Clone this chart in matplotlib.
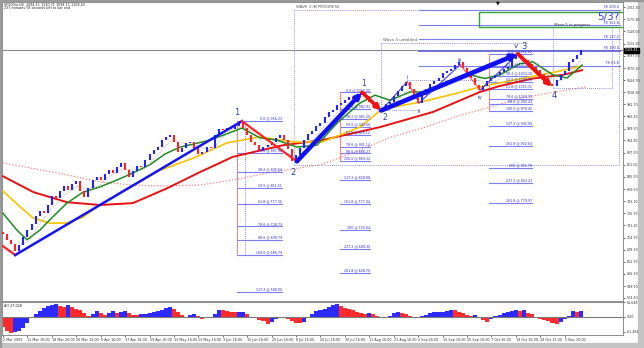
import matplotlib
matplotlib.use("Agg")
import matplotlib.pyplot as plt
import numpy as np
import pandas as pd
from matplotlib.patches import Rectangle

# ---------------- data ----------------
header_line1 = "SP500m,H4  1094.11 1110.71 1094.11 1109.43"
header_line2 = "237 minutes 58 seconds left to bar end"

first_open = 716
closes = [712, 700, 690, 676, 688, 705, 720, 735, 752, 762,
          758, 775, 795, 790, 806, 815, 808, 820, 826, 805,
          792, 812, 830, 836, 828, 842, 850, 845, 858, 866,
          850, 835, 848, 860, 858, 872, 885, 893, 900, 915,
          922, 926, 912, 890, 898, 908, 912, 898, 884, 890,
          900, 898, 925, 940, 936, 942, 938, 946, 952, 942,
          925, 912, 905, 892, 900, 905, 912, 920, 926, 915,
          895, 870, 882, 898, 915, 928, 935, 945, 952, 965,
          976, 980, 990, 995, 1002, 1008, 1004, 1012, 1018, 1010,
          998, 992, 982, 985, 992, 998, 1010, 1020, 1032, 1040,
          1025, 1005, 996, 1012, 1026, 1036, 1042, 1050, 1060, 1064,
          1068, 1078, 1084, 1070, 1058, 1048, 1035, 1024, 1032, 1042,
          1050, 1056, 1062, 1068, 1072, 1090, 1100, 1092, 1088, 1080,
          1072, 1066, 1058, 1046, 1036, 1032, 1045, 1056, 1064, 1084,
          1090, 1098, 1109]

ao_values = [-40, -58, -65, -63, -58, -45, -25, -5, 12, 25,
             38, 46, 50, 52, 44, 42, 48, 41, 35, 27,
             16, 6, 14, 24, 16, 7, 18, 25, 16, 22,
             25, 15, 10, 8, 11, 14, 15, 19, 23, 28,
             36, 41, 35, 22, 8, 0, 7, 14, 3, -7,
             -3, 2, 14, 28, 27, 25, 22, 20, 20, 21,
             11, 2, -6, -12, -18, -27, -20, -7, 0, -3,
             -10, -18, -24, -25, -19, -6, 12, 24, 30, 34,
             41, 48, 52, 44, 38, 35, 29, 22, 17, 14,
             15, 12, 3, -2, -4, 3, 16, 19, 17, 12,
             3, -6, -4, 3, 10, 16, 19, 21, 22, 25,
             30, 27, 21, 16, 10, 6, 7, -4, -14, -20,
             -9, 5, 10, 15, 20, 24, 27, 25, 27, 18,
             11, 2, -7, -13, -18, -25, -27, -20, -8, 6,
             23, 22, 24]

date_labels = ["2 Mar 2009", "11 Mar 16:00", "18 Mar 20:00", "26 Mar 12:00",
               "6 Apr 16:00", "17 Apr 16:00", "29 Apr 16:00", "11 May 16:00",
               "21 May 16:00", "3 Jun 16:00", "15 Jun 16:00", "25 Jun 16:00",
               "8 Jul 16:00", "20 Jul 16:00", "30 Jul 16:00", "11 Aug 16:00",
               "21 Aug 16:00", "2 Sep 16:00", "15 Sep 16:00", "25 Sep 16:00",
               "7 Oct 16:00", "19 Oct 16:00", "28 Oct 12:00", "5 Nov 20:00"]

price_ticks = [1202.30, 1175.90, 1149.50, 1123.10, 1097.50, 1070.10, 1044.70,
               1018.30, 992.70, 966.30, 939.90, 914.30, 887.90, 861.50, 835.90,
               809.50, 783.10, 756.70, 731.10, 704.70, 678.30, 652.70, 626.30,
               599.90, 574.30]
current_price = 1109.43
ao_label = "AO 27.028"
ao_ticks = [61.648, 0.0, -61.484]
ao_tick_labels = ["61.648", "0.00", "-61.484"]

# moving averages (bar index, value)
ma_red_x = [0, 7.4, 15.7, 23.8, 31.9, 40.3, 48.4, 56.5, 61.4, 68.8, 78.4, 92.6,
            105.7, 117.2, 122.1, 130.2, 137.6, 142.3]
ma_red_y = [837, 803, 781, 775, 779, 811, 846, 879, 889, 904, 915, 943,
            976, 1019, 1032, 1048, 1056, 1066]
ma_yel_x = [0, 4.2, 7.4, 11.5, 15.7, 19.7, 23.8, 31.9, 38.6, 46.7, 55, 63.1,
            71.3, 78.4, 87.7, 93.1, 102.5, 111, 117.2, 127, 135.6, 142.3]
ma_yel_y = [805, 771, 747, 736, 736, 749, 775, 818, 850, 876, 909, 922,
            911, 911, 943, 982, 997, 1015, 1030, 1047, 1062, 1075]
ma_grn_x = [0, 3.4, 5.9, 9.1, 11.5, 15.7, 19.7, 23.8, 28, 31.9, 36.1, 39.8,
            43.5, 50.9, 58.7, 63.1, 67.3, 72.2, 77.1, 82.1, 87.7, 91.4, 95.1,
            100, 104.9, 109.8, 114.7, 118.4, 122.1, 127, 130.2, 135.1, 138.6, 142.3]
ma_grn_y = [757, 721, 700, 721, 743, 779, 803, 814, 829, 844, 862, 885,
            900, 915, 941, 920, 915, 900, 904, 952, 995, 1012, 1001,
            1019, 1019, 1040, 1056, 1048, 1056, 1080, 1084, 1056, 1049, 1077]
ma_pink_x = [0, 15.7, 23.8, 31.9, 40.3, 48.4, 56.5, 64.9, 73, 78.4, 86.5,
             94.8, 103, 111, 119.4, 127.5, 135.6, 143.5]
ma_pink_y = [866, 840, 825, 818, 816, 818, 829, 844, 855, 863, 889,
             920, 941, 965, 986, 1006, 1019, 1030]

# Elliott wave swing points (bar index, price)
pre_x, pre_y = [-0.3, 3.0], [688, 667]
w1_x, w1_y = [3.0, 58.7], [667, 956]
w2_x, w2_y = [58.7, 72.2], [956, 869]
big_up1_x, big_up1_y = [72.2, 88.2], [869, 1018]
big_dn2_x, big_dn2_y = [88.2, 92.9], [1018, 979]
big_up3_x, big_up3_y = [92.9, 126.5], [979, 1101]
big_dn4_x, big_dn4_y = [126.5, 134.9], [1101, 1030]
sub_x = [92.9, 99.3, 102.2, 112.3, 117.2, 126.5]
sub_y = [979, 1041, 995, 1078, 1023, 1101]

# Fibonacci tools
fib_ratios = [0, 23.6, 38.2, 50, 61.8, 78.6, 88.6, 100, 127.2, 161.8, 200, 227.2, 261.8]
fib_ratio_txt = ["0.0", "23.6", "38.2", "50.0", "61.8", "78.6", "88.6", "100.0",
                 "127.2", "161.8", "200", "227.2", "261.8"]
fib1_top, fib1_bot = 956.23, 666.79
fib2_top, fib2_bot = 1018.0, 869.32
fib3_top, fib3_bot = 1101.12, 978.45
fe_base, fe_range = 1021.0, 87.4
fe_ratios = [61.8, 100.0, 127.2, 161.8, 200.0]

# ---------------- figure ----------------
W, H = 644, 348
fig = plt.figure(figsize=(W / 100, H / 100), dpi=100)
fig.patch.set_facecolor("white")
plt.rcParams["font.family"] = ["DejaVu Sans"]

# frame shadows (behind everything)
fig.add_artist(Rectangle((638 / W, 0), 6 / W, 1, transform=fig.transFigure, color="#c4c4c4", zorder=-5))
fig.add_artist(Rectangle((0, 0), 1, 5 / H, transform=fig.transFigure, color="#c4c4c4", zorder=-5))
fig.add_artist(Rectangle((0, 0), 1.2 / W, 1, transform=fig.transFigure, color="#9a9a9a", zorder=-5))
fig.add_artist(Rectangle((0, 1 - 1.2 / H), 1, 1.2 / H, transform=fig.transFigure, color="#9a9a9a", zorder=-5))

ax = fig.add_axes([2 / W, 47 / H, 621 / W, 299 / H])
ax_ao = fig.add_axes([2 / W, 13 / H, 621 / W, 33 / H], sharex=ax)

n = len(closes)
idx = np.arange(n)
opens = [first_open] + closes[:-1]
xlim = (-0.25, -0.25 + 621 / 4.07)
ylim = (567.8, 1213.1)

BLUE = "#2222ff"
RED = "#ff2222"
FIBC = "#7d7df2"
FIBT = "#2b2bd0"
DOT = (0, (1, 1.5))

# moving averages
sma5 = pd.Series(closes).rolling(5).mean()
ax.plot(ma_pink_x, ma_pink_y, color="#ff8080", lw=0.9, ls=DOT, zorder=2)
ax.plot(ma_red_x, ma_red_y, color="#e81010", lw=1.4, zorder=3)
ax.plot(ma_yel_x, ma_yel_y, color="#f5c400", lw=1.2, zorder=3)
ax.plot(ma_grn_x, ma_grn_y, color="#1f8a1f", lw=1.1, zorder=3)
ax.plot(idx, sma5, color="#9a9a9a", lw=0.6, ls=DOT, zorder=3)

# candles
for i in range(n):
    o, c = opens[i], closes[i]
    col = BLUE if c >= o else RED
    lo, hi = min(o, c), max(o, c)
    if hi - lo < 2:
        hi += 1; lo -= 1
    ax.vlines(i, lo, hi, color=col, lw=1.5, zorder=4)

# current price line
ax.axhline(current_price, color="#8a8a8a", lw=0.8, zorder=2)

# Fibonacci retracements
def draw_fib(top, bot, ratios, txts, x0, x1):
    rng = top - bot
    for r, t in zip(ratios, txts):
        lvl = top - rng * r / 100.0
        ax.plot([x0, x1], [lvl, lvl], color=FIBC, lw=0.8, zorder=2)
        ax.text(x1, lvl + 1, f"{t} @ {lvl:.2f}", fontsize=2.3, color=FIBT,
                ha="right", va="bottom", zorder=6)
    ax.plot([x0, x0], [top, bot], color="#ff7a7a", lw=0.7, zorder=2)

draw_fib(fib1_top, fib1_bot, fib_ratios[:9], fib_ratio_txt[:9], 57.5, 68.6)
ax.plot([59.5, 59.5], [fib1_top, fib1_bot], color="#5a5ae0", lw=0.6, ls=DOT)
draw_fib(fib2_top, fib2_bot, fib_ratios, fib_ratio_txt, 82.8, 90.2)
draw_fib(fib3_top, fib3_bot, fib_ratios, fib_ratio_txt, 119.4, 130.0)

# Fibonacci expansion lines at right
for r in fe_ratios:
    lvl = fe_base + fe_range * r / 100.0
    lw = 1.3 if r == 100.0 else 0.8
    col = "#6a6ad8" if r == 100.0 else FIBC
    ax.plot([102.2, 151.6], [lvl, lvl], color=col, lw=lw, zorder=2)
    ax.text(151.4, lvl + 1.5, f"FE {r:.1f}", fontsize=2.4, color=FIBT,
            ha="right", va="bottom", zorder=6)

# boxes (dotted)
def dline(xs, ys, col="#6a6ae0"):
    ax.plot(xs, ys, color=col, lw=0.6, ls=DOT, zorder=2)

dline([71.5, 102.2], [1195.8, 1195.8])
dline([71.5, 71.5], [1195.8, 861.3])
dline([71.5, 151.3], [861.3, 861.3])
dline([151.3, 151.3], [1195.8, 861.3])
dline([92.9, 128.7], [1124.6, 1124.6])
dline([92.9, 92.9], [1124.6, 979])
dline([135.1, 149.6], [1027.5, 1027.5])
dline([135.1, 135.1], [1157, 1027.5])
dline([149.6, 149.6], [1157, 1027.5])
dline([99.3, 117.0], [1044, 1044])
dline([92.9, 102.2], [979, 979])
ax.add_patch(Rectangle((117.0, 1159), 40, 32.5, fill=False, ec="#2fa52f", lw=1.0, zorder=2))

ax.text(72.0, 1199, "WAVE 3 IN PROGRESS", fontsize=2.9, color="#555555", va="bottom")
ax.text(93.3, 1127, "Wave 3 unfolded", fontsize=2.9, color="#555555", va="bottom")
ax.text(135.4, 1160, "Wave 5 in progress", fontsize=2.7, color="#333333", va="bottom")
ax.text(148.6, 1180, "5/3?", fontsize=7.5, color="#3a3ad8", ha="center", va="center")

# wave lines
ax.plot(pre_x, pre_y, color=RED, lw=1.6, zorder=5)
ax.plot(w1_x, w1_y, color="#1515ee", lw=1.8, zorder=5)
ax.plot(w2_x, w2_y, color=RED, lw=1.6, zorder=5)
ax.plot(sub_x[0:2], sub_y[0:2], color="#3030e0", lw=0.7, zorder=5)
ax.plot(sub_x[1:3], sub_y[1:3], color="#ff4040", lw=0.7, zorder=5)
ax.plot(sub_x[2:4], sub_y[2:4], color="#3030e0", lw=0.7, zorder=5)
ax.plot(sub_x[3:5], sub_y[3:5], color="#ff4040", lw=0.7, zorder=5)
ax.plot(sub_x[4:6], sub_y[4:6], color="#3030e0", lw=0.7, zorder=5)

def thick(xs, ys, col, lw):
    ax.annotate("", xy=(xs[1], ys[1]), xytext=(xs[0], ys[0]),
                arrowprops=dict(arrowstyle="-|>", color=col, lw=lw,
                                mutation_scale=7, shrinkA=0, shrinkB=0),
                zorder=6)

thick(big_up1_x, big_up1_y, "#1010f0", 3.2)
thick(big_dn2_x, big_dn2_y, "#f01010", 2.6)
thick(big_up3_x, big_up3_y, "#1010f0", 3.4)
thick(big_dn4_x, big_dn4_y, "#f01010", 2.8)

LBL = "#2f3fb0"
for (x, y, t, fs) in [(57.5, 974, "1", 6), (71.3, 846, "2", 6), (88.6, 1038, "1", 5.5),
                      (93.9, 963, "2", 5.5), (99.3, 1050, "i", 4), (102.2, 976, "ii", 4),
                      (112.3, 1087, "iii", 4), (117.2, 1008, "iv", 4),
                      (126.0, 1118, "v", 5), (127.9, 1118, "3", 6), (135.4, 1012, "4", 6)]:
    ax.text(x, y, t, fontsize=fs, color=LBL, ha="center", va="center", zorder=7)

ax.set_xlim(*xlim)
ax.set_ylim(*ylim)
ax.yaxis.tick_right()
ax.set_yticks(price_ticks)
ax.set_yticklabels([f"{v:.2f}" for v in price_ticks])
ax.tick_params(axis="y", labelsize=2.3, length=1.5, width=0.5, pad=1.0, colors="#333333")
ax.tick_params(axis="x", bottom=False, labelbottom=False)
for s in ax.spines.values():
    s.set_color("#8c8c8c"); s.set_linewidth(0.7)

ax.text(0.003, 0.997, header_line1, transform=ax.transAxes, fontsize=2.4,
        color="#222222", va="top", ha="left")
ax.text(0.003, 0.985, header_line2, transform=ax.transAxes, fontsize=2.4,
        color="#222222", va="top", ha="left")

# current price tag
ax.text(1.003, current_price, f"{current_price:.2f}", transform=ax.get_yaxis_transform(),
        fontsize=2.3, color="white", va="center", ha="left",
        bbox=dict(boxstyle="square,pad=0.15", fc="black", ec="black"), zorder=10, clip_on=False)

# ---------------- AO panel ----------------
ao_cols = []
for i, v in enumerate(ao_values):
    prev = ao_values[i - 1] if i > 0 else v + 1
    ao_cols.append("#2b2bff" if v >= prev else "#ff2b2b")
ax_ao.bar(idx, ao_values, width=1.0, color=ao_cols, linewidth=0)
ax_ao.axhline(0, color="#7a7a7a", lw=0.8)
ax_ao.set_ylim(-74.4, 62)
ax_ao.yaxis.tick_right()
ax_ao.set_yticks(ao_ticks)
ax_ao.set_yticklabels(ao_tick_labels)
ax_ao.tick_params(axis="y", labelsize=2.3, length=1.5, width=0.5, pad=1.0, colors="#333333")
ax_ao.set_xticks(list(range(0, 6 * len(date_labels), 6)))
ax_ao.set_xticklabels(date_labels, ha="left")
ax_ao.tick_params(axis="x", labelsize=2.4, length=1.5, width=0.5, pad=1, colors="#333333")
for s in ax_ao.spines.values():
    s.set_color("#8c8c8c"); s.set_linewidth(0.7)
ax_ao.text(0.003, 0.93, ao_label, transform=ax_ao.transAxes, fontsize=2.4,
           color="#222222", va="top", ha="left")
ax_ao.set_xlim(*xlim)

# shift marker
fig.text(498 / W, 1 - 3 / H, "\u25bc", fontsize=3.5, ha="center", va="center", color="black")

fig.savefig("out.png", dpi=100, facecolor="white")
